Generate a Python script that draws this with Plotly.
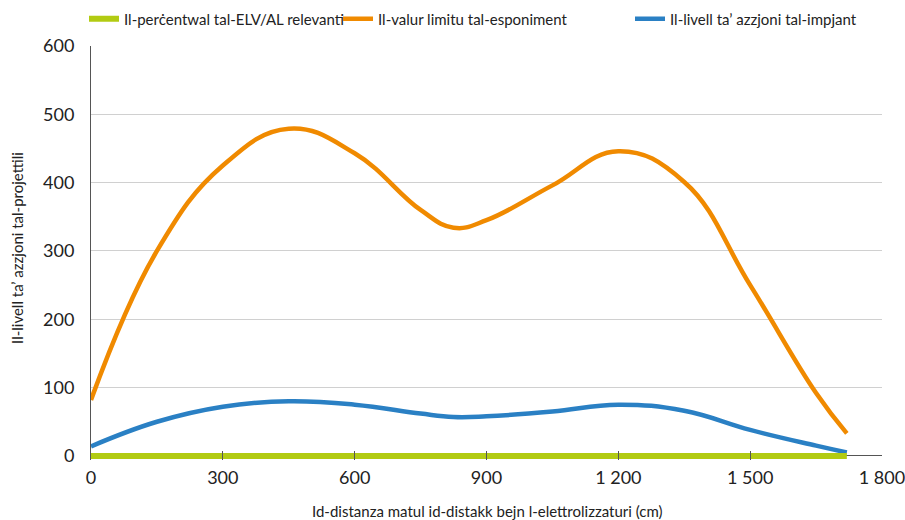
import plotly.graph_objects as go

# Data
distance_cm = [0, 150, 300, 450, 600, 750, 825, 900, 1050, 1200, 1350, 1500, 1650, 1720]
limit_value = [82, 300, 425, 479, 443, 360, 334, 345, 396, 446, 401, 250, 92, 33]
action_level = [14, 50, 72, 80, 75, 62, 57, 58, 65, 75, 66, 38, 15, 5]
elv_percent = [0, 0, 0, 0, 0, 0, 0, 0, 0, 0, 0, 0, 0, 0]

x_tickvals = [0, 300, 600, 900, 1200, 1500, 1800]
x_ticktext = ["0", "300", "600", "900", "1 200", "1 500", "1 800"]
y_tickvals = [0, 100, 200, 300, 400, 500, 600]

names = ["Il-perċentwal tal-ELV/AL relevanti",
         "Il-valur limitu tal-esponiment",
         "Il-livell ta’ azzjoni tal-impjant"]
colors = ["#B2CB12", "#F08A00", "#2A80C4"]
x_title = "Id-distanza matul id-distakk bejn l-elettrolizzaturi (cm)"
y_title = "Il-livell ta’ azzjoni tal-projettili"

FONT = "Lato"
TXT = "#222"
W, H = 905, 520
PL, PR, PT = 91, 882, 46
Y0PIX = 456
SCALE = (Y0PIX - PT) / 600.0
Y_LOW = -6
PB = Y0PIX + (-Y_LOW) * SCALE

fig = go.Figure()
fig.add_trace(go.Scatter(x=distance_cm, y=limit_value, mode="lines", name=names[1],
                         line=dict(color=colors[1], width=4.5, shape="spline", smoothing=1.2),
                         legend="legend2", showlegend=True))
fig.add_trace(go.Scatter(x=distance_cm, y=action_level, mode="lines", name=names[2],
                         line=dict(color=colors[2], width=4.5, shape="spline", smoothing=1.2),
                         legend="legend3", showlegend=True))
fig.add_trace(go.Scatter(x=distance_cm, y=elv_percent, mode="lines", name=names[0],
                         line=dict(color=colors[0], width=6), legend="legend",
                         showlegend=True))

leg_common = dict(orientation="h", xref="container", yref="container", yanchor="middle",
                  xanchor="left", y=1 - 19 / H, font=dict(family=FONT, size=15, color=TXT),
                  bgcolor="rgba(0,0,0,0)", itemwidth=30)

fig.update_layout(
    width=W, height=H,
    margin=dict(l=PL, r=W - PR, t=PT, b=H - PB, autoexpand=False),
    plot_bgcolor="white", paper_bgcolor="white",
    showlegend=True,
    font=dict(family=FONT, color=TXT),
    legend=dict(leg_common, x=(88 - 4) / W),
    legend2=dict(leg_common, x=(342 - 4) / W),
    legend3=dict(leg_common, x=(634 - 4) / W),
    xaxis=dict(range=[0, 1800], tickvals=x_tickvals, ticktext=x_ticktext, automargin=False,
               showgrid=False, zeroline=False, showline=False,
               ticks="inside", ticklen=9, tickcolor="#555", ticklabelstandoff=5,
               ticklabeloverflow="allow",
               tickfont=dict(family=FONT, size=18, color=TXT)),
    yaxis=dict(range=[Y_LOW, 600], tickvals=y_tickvals, showgrid=True, gridcolor="#D0D0D0",
               gridwidth=1, zeroline=True, zerolinecolor="#555", zerolinewidth=1,
               showline=True, linecolor="#555", linewidth=1,
               automargin=False, ticks="", ticklabelstandoff=12,
               tickfont=dict(family=FONT, size=18, color=TXT)),
    annotations=[
        dict(text=x_title, xref="paper", yref="paper", x=0.5, y=(PB - 511) / (PB - PT),
             xanchor="center", yanchor="middle", showarrow=False,
             font=dict(family=FONT, size=15, color=TXT)),
        dict(text=y_title, xref="paper", yref="paper", x=(17 - PL) / (PR - PL),
             y=(PB - 248) / (PB - PT),
             xanchor="center", yanchor="middle", textangle=-90, showarrow=False,
             font=dict(family=FONT, size=15, color=TXT)),
    ],
)

fig.write_html("out.html", config={"displayModeBar": False},
               post_script="document.body.style.margin='0';")
